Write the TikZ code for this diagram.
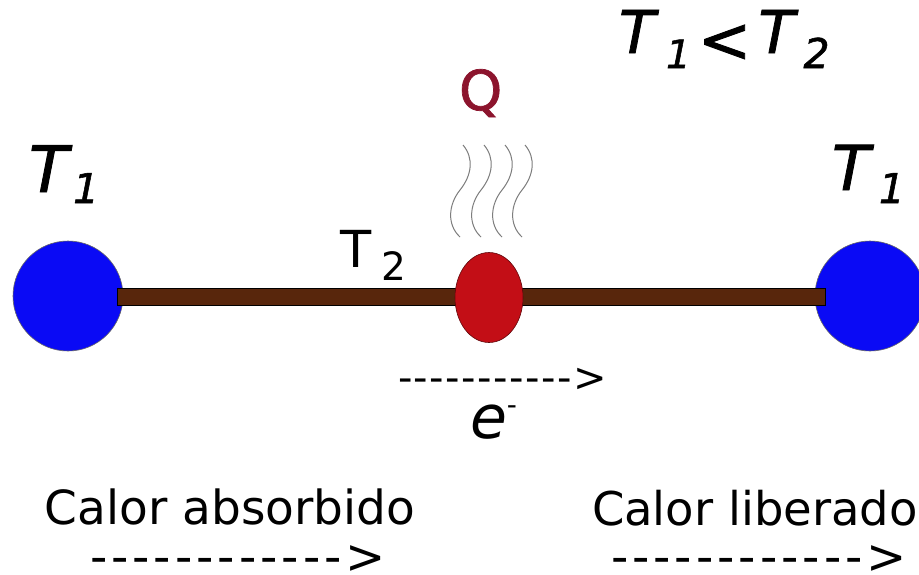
\documentclass[tikz,border=0pt]{standalone}
\usepackage{fontspec}
\setmainfont{DejaVu Sans}
\newfontfamily\heavyfont{DejaVu Sans}[FakeBold=1.3]
\usetikzlibrary{shapes.geometric}
\definecolor{ballblue}{RGB}{10,10,245}
\definecolor{rodbrown}{RGB}{88,38,12}
\definecolor{hotred}{RGB}{195,14,22}
\definecolor{qred}{RGB}{140,20,45}
\definecolor{steamgray}{RGB}{125,125,125}
\newcommand\dashchar[1]{-\kern#1}
\newcommand\fsz[1]{\fontsize{#1pt}{#1pt}\selectfont}
\begin{document}
\begin{tikzpicture}[x=1pt,y=-1pt,
  lbl/.style={inner sep=0pt, outer sep=0pt, anchor=base west},
  ball/.style={circle, fill=ballblue, draw=black!60, line width=0.6pt, minimum size=110pt, inner sep=0pt},
  steamline/.style={draw=steamgray, line width=1pt}]
\useasboundingbox (0,0) rectangle (919,574);
\fill[white] (0,0) rectangle (919,574);
% balls, rod, hot spot
\node[ball] (lb) at (68,296) {};
\node[ball] (rb) at (870,296) {};
\node[rectangle, fill=rodbrown, draw=black, line width=0.6pt, minimum width=708pt, minimum height=17pt, inner sep=0pt] (rod) at (471,296.5) {};
\node[ellipse, fill=hotred, draw=black!50!hotred, line width=0.6pt, minimum width=68pt, minimum height=90pt, inner sep=0pt] (hot) at (489,297.5) {};
% steam
\foreach \dx in {0,21,42,62}{
  \draw[steamline] ({463+\dx},145) .. controls ({474+\dx},158) and ({472+\dx},175) .. ({460+\dx},190)
     .. controls ({448+\dx},205) and ({447+\dx},225) .. ({460+\dx},237);
}
% labels
\node[lbl, text=qred, font=\heavyfont\fsz{55}] (q) at (459,110) {Q};
\node[lbl, font=\fsz{51}] (t2) at (340,267) {T\kern10pt\raisebox{-13pt}{\fsz{39}2}};
\node[lbl, font=\heavyfont\itshape\fsz{64}] (t1l) at (29,192) {T\kern5pt\raisebox{-11pt}{\fsz{41}1}};
\node[lbl, font=\heavyfont\itshape\fsz{62}] (t1r) at (832,190) {T\kern9pt\raisebox{-13pt}{\fsz{41}1}};
\node[lbl, font=\heavyfont\itshape\fsz{59}] (ineq) at (619,53) {T\kern11pt\raisebox{-15pt}{\fsz{39}1}\kern7pt\raisebox{-9pt}{\upshape\fsz{64}<}\kern7pt T\kern9pt\raisebox{-15pt}{\fsz{41}2}};
\node[lbl, font=\itshape\fsz{60}] (e) at (470,438) {e\raisebox{24pt}{\upshape\fsz{28}-}};
\node[lbl, font=\fsz{40}] (earrow) at (398,391) {\dashchar{1.5pt}\dashchar{1.5pt}\dashchar{1.5pt}\dashchar{1.5pt}\dashchar{1.5pt}\dashchar{1.5pt}\dashchar{1.5pt}\dashchar{1.5pt}\dashchar{1.5pt}\dashchar{1.5pt}\dashchar{1.5pt}>};
\node[lbl, font=\fsz{47}] (absorb) at (45,524) {Calor absorbido};
\node[lbl, font=\fsz{46.5}] (liber) at (592,525) {Calor liberado};
\node[lbl, font=\fsz{48}] (aarrow) at (90,573) {\dashchar{4pt}\dashchar{4pt}\dashchar{4pt}\dashchar{4pt}\dashchar{4pt}\dashchar{4pt}\dashchar{4pt}\dashchar{4pt}\dashchar{4pt}\dashchar{4pt}\dashchar{4pt}\dashchar{4pt}>};
\node[lbl, font=\fsz{48}] (larrow) at (611,573) {\dashchar{4pt}\dashchar{4pt}\dashchar{4pt}\dashchar{4pt}\dashchar{4pt}\dashchar{4pt}\dashchar{4pt}\dashchar{4pt}\dashchar{4pt}\dashchar{4pt}\dashchar{4pt}\dashchar{4pt}>};
\end{tikzpicture}
\end{document}
